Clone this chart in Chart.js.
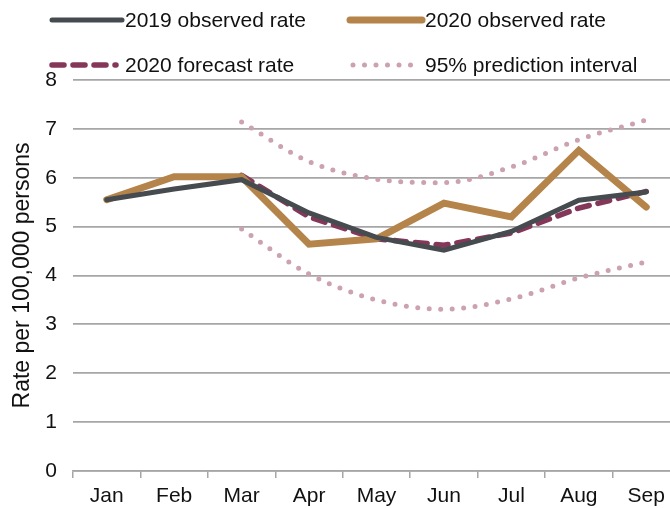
<!DOCTYPE html>
<html>
<head>
<meta charset="utf-8">
<script src="https://cdn.jsdelivr.net/npm/chart.js@4"></script>
<style>
  html, body { margin: 0; padding: 0; background: #fff; overflow: hidden; }
  #wrap { width: 680px; height: 508px; }
</style>
</head>
<body>
<div id="wrap"><canvas id="c" width="680" height="508"></canvas></div>
<script>
const months = ['Jan', 'Feb', 'Mar', 'Apr', 'May', 'Jun', 'Jul', 'Aug', 'Sep'];
const observed2019 = [5.55, 5.77, 5.96, 5.28, 4.78, 4.52, 4.9, 5.54, 5.71];
const observed2020 = [5.55, 6.02, 6.02, 4.64, 4.75, 5.48, 5.2, 6.56, 5.4];
const forecast2020 = [null, null, 6.05, 5.2, 4.75, 4.62, 4.87, 5.38, 5.72];
const upperPI = [null, null, 7.14, 6.33, 5.97, 5.9, 6.22, 6.78, 7.18];
const lowerPI = [null, null, 4.95, 4.03, 3.5, 3.31, 3.52, 3.95, 4.28];
const yTicks = [0, 1, 2, 3, 4, 5, 6, 7, 8];

const FONT = 'Liberation Sans, Arial, sans-serif';

// legend drawn by hand so the two columns line up like the original
const legendPlugin = {
  id: 'gridLegend',
  afterDraw(chart) {
    const ctx = chart.ctx;
    const items = [
      { ds: 0, x: 52, y: 20, len: 70, tx: 125 },
      { ds: 1, x: 350, y: 20, len: 72, tx: 425 },
      { ds: 2, x: 52, y: 65, len: 64, tx: 125 },
      { ds: 4, x: 353, y: 65, len: 60, tx: 425, label: '95% prediction interval' }
    ];
    ctx.save();
    items.forEach(it => {
      const d = chart.data.datasets[it.ds];
      ctx.beginPath();
      ctx.strokeStyle = d.borderColor;
      ctx.lineWidth = d.borderWidth;
      ctx.lineCap = d.borderCapStyle || 'round';
      ctx.setLineDash(d.borderDash || []);
      ctx.moveTo(it.x, it.y);
      ctx.lineTo(it.x + it.len, it.y);
      ctx.stroke();
      ctx.setLineDash([]);
      ctx.fillStyle = '#111';
      ctx.font = '21px ' + FONT;
      ctx.textBaseline = 'middle';
      ctx.textAlign = 'left';
      ctx.fillText(it.label || d.label, it.tx, it.y + 1);
    });
    ctx.restore();
  }
};

new Chart(document.getElementById('c'), {
  type: 'line',
  data: {
    labels: months,
    datasets: [
      {
        label: '2019 observed rate',
        data: observed2019,
        borderColor: '#464b50',
        borderWidth: 5,
        borderCapStyle: 'round',
        pointRadius: 0,
        tension: 0
      },
      {
        label: '2020 observed rate',
        data: observed2020,
        borderColor: '#b5844a',
        borderWidth: 7,
        borderCapStyle: 'round',
        pointRadius: 0,
        tension: 0
      },
      {
        label: '2020 forecast rate',
        data: forecast2020,
        borderColor: '#85375a',
        borderWidth: 5.5,
        borderDash: [12, 9],
        borderCapStyle: 'round',
        pointRadius: 0,
        tension: 0
      },
      {
        label: '95% prediction interval (upper)',
        data: upperPI,
        borderColor: '#cba2ae',
        borderWidth: 5,
        borderDash: [0, 11.5],
        borderCapStyle: 'round',
        pointRadius: 0,
        tension: 0.4,
        cubicInterpolationMode: 'monotone'
      },
      {
        label: '95% prediction interval (lower)',
        data: lowerPI,
        borderColor: '#cba2ae',
        borderWidth: 5,
        borderDash: [0, 11.5],
        borderCapStyle: 'round',
        pointRadius: 0,
        tension: 0.4,
        cubicInterpolationMode: 'monotone'
      }
    ]
  },
  options: {
    responsive: false,
    animation: false,
    layout: { padding: { top: 80, left: 0, right: 0, bottom: 0 } },
    plugins: {
      legend: { display: false },
      tooltip: { enabled: false }
    },
    scales: {
      x: {
        offset: true,
        grid: {
          offset: true,
          drawOnChartArea: false,
          drawTicks: true,
          tickLength: 7,
          color: '#a6a6a6',
          lineWidth: 1.5
        },
        border: { display: true, color: '#a6a6a6', width: 1.5 },
        ticks: {
          color: '#111',
          font: { family: FONT, size: 21 },
          padding: 6,
          maxRotation: 0
        },
        afterFit(scale) { scale.height = 37; }
      },
      y: {
        min: 0,
        max: 8,
        afterBuildTicks(scale) { scale.ticks = yTicks.map(v => ({ value: v })); },
        grid: {
          drawTicks: false,
          color: '#a6a6a6',
          lineWidth: 1.8
        },
        border: { display: false },
        ticks: {
          color: '#111',
          font: { family: FONT, size: 21 },
          padding: 16
        },
        title: {
          display: true,
          text: 'Rate per 100,000 persons',
          color: '#111',
          font: { family: FONT, size: 23 },
          padding: { top: 9, bottom: 0 }
        },
        afterFit(scale) { scale.width = 73; }
      }
    }
  },
  plugins: [legendPlugin]
});
</script>
</body>
</html>
